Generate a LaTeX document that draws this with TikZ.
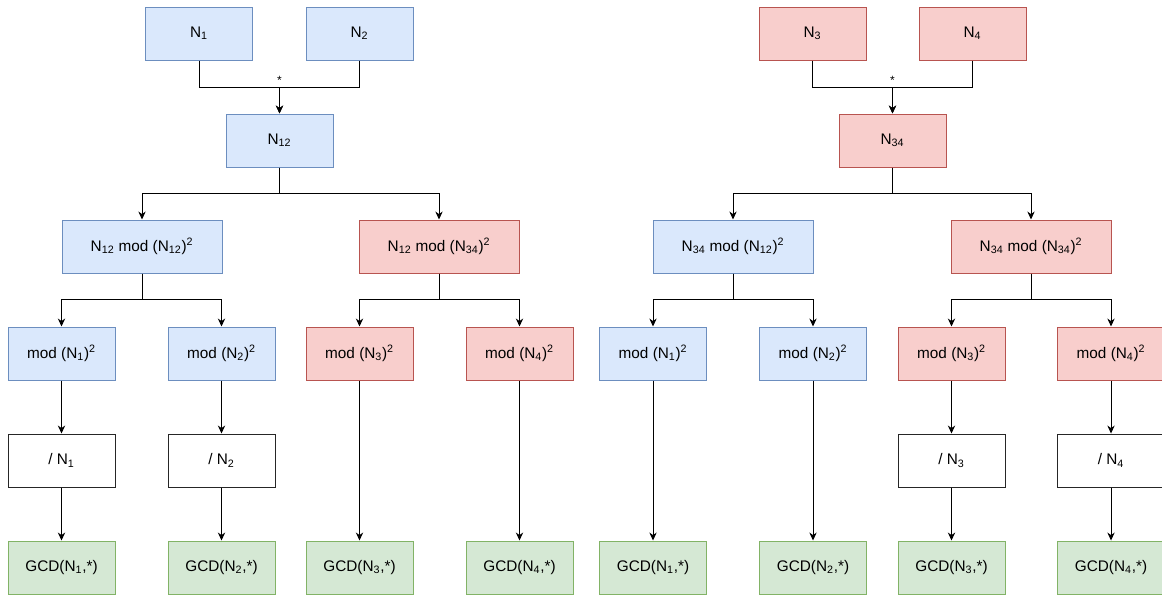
\documentclass[tikz,border=0pt]{standalone}
\usepackage{fontspec}
\setmainfont{Liberation Sans}
\usetikzlibrary{arrows.meta}

\begin{document}
\begin{tikzpicture}[x=0.75pt,y=-0.75pt]
\tikzset{
  box/.style={draw,line width=0.75pt,minimum width=80.25pt,minimum height=39.75pt,inner sep=1pt,font=\fontsize{11.5}{13}\selectfont},
  widebox/.style={box,minimum width=120pt},
  bluebox/.style={fill=blueF,draw=blueD},
  redbox/.style={fill=redF,draw=redD},
  greenbox/.style={fill=greenF,draw=greenD},
  plainbox/.style={fill=white,draw=black!85},
  directed/.style={-{Stealth[length=6pt,width=5.5pt]},line width=0.75pt},
  plain/.style={line width=0.75pt}
}
\definecolor{blueF}{HTML}{DAE8FC}\definecolor{blueD}{HTML}{6C8EBF}
\definecolor{redF}{HTML}{F8CECC}\definecolor{redD}{HTML}{B85450}
\definecolor{greenF}{HTML}{D5E8D4}\definecolor{greenD}{HTML}{82B366}
\useasboundingbox (0,0) rectangle (1162,596);
% top level
\node[box,bluebox] (n_N1) at (199,33.5) {N\textsubscript{1}};
\node[box,bluebox] (n_N2) at (359.5,33.5) {N\textsubscript{2}};
\node[box,bluebox] (n_N12) at (279.5,140.5) {N\textsubscript{12}};
\node[box,redbox] (n_N3) at (812.5,33.5) {N\textsubscript{3}};
\node[box,redbox] (n_N4) at (972.5,33.5) {N\textsubscript{4}};
\node[box,redbox] (n_N34) at (892.5,140.5) {N\textsubscript{34}};
\node[font=\fontsize{9}{10}\selectfont] (s_12) at (279.5,80) {*};
\node[font=\fontsize{9}{10}\selectfont] (s_34) at (892.5,80) {*};
% second level
\node[widebox,bluebox] (n_a12) at (142,246.5) {N\textsubscript{12} mod (N\textsubscript{12})\textsuperscript{2}};
\node[widebox,redbox] (n_b12) at (439,246.5) {N\textsubscript{12} mod (N\textsubscript{34})\textsuperscript{2}};
\node[widebox,bluebox] (n_a34) at (733,246.5) {N\textsubscript{34} mod (N\textsubscript{12})\textsuperscript{2}};
\node[widebox,redbox] (n_b34) at (1031,246.5) {N\textsubscript{34} mod (N\textsubscript{34})\textsuperscript{2}};
% mod boxes
\node[box,bluebox] (n_m1) at (61.5,353.5) {mod (N\textsubscript{1})\textsuperscript{2}};
\node[box,bluebox] (n_m2) at (221.5,353.5) {mod (N\textsubscript{2})\textsuperscript{2}};
\node[box,redbox] (n_m3) at (359.5,353.5) {mod (N\textsubscript{3})\textsuperscript{2}};
\node[box,redbox] (n_m4) at (519.5,353.5) {mod (N\textsubscript{4})\textsuperscript{2}};
\node[box,bluebox] (n_r1) at (653,353.5) {mod (N\textsubscript{1})\textsuperscript{2}};
\node[box,bluebox] (n_r2) at (813,353.5) {mod (N\textsubscript{2})\textsuperscript{2}};
\node[box,redbox] (n_r3) at (951.5,353.5) {mod (N\textsubscript{3})\textsuperscript{2}};
\node[box,redbox] (n_r4) at (1111,353.5) {mod (N\textsubscript{4})\textsuperscript{2}};
% division boxes
\node[box,plainbox] (n_d1) at (61.5,460.5) {/ N\textsubscript{1}};
\node[box,plainbox] (n_d2) at (221.5,460.5) {/ N\textsubscript{2}};
\node[box,plainbox] (n_d3) at (951.5,460.5) {/ N\textsubscript{3}};
\node[box,plainbox] (n_d4) at (1111,460.5) {/ N\textsubscript{4}};
% gcd boxes
\node[box,greenbox] (n_g1) at (61.5,567.5) {GCD(N\textsubscript{1},*)};
\node[box,greenbox] (n_g2) at (221.5,567.5) {GCD(N\textsubscript{2},*)};
\node[box,greenbox] (n_g3) at (359.5,567.5) {GCD(N\textsubscript{3},*)};
\node[box,greenbox] (n_g4) at (519.5,567.5) {GCD(N\textsubscript{4},*)};
\node[box,greenbox] (n_h1) at (653,567.5) {GCD(N\textsubscript{1},*)};
\node[box,greenbox] (n_h2) at (813,567.5) {GCD(N\textsubscript{2},*)};
\node[box,greenbox] (n_h3) at (951.5,567.5) {GCD(N\textsubscript{3},*)};
\node[box,greenbox] (n_h4) at (1111,567.5) {GCD(N\textsubscript{4},*)};
% connectors
\draw[directed] (n_N1.south) -- ++(0,27) -| (n_N12.north);
\draw[directed] (n_N2.south) -- ++(0,27) -| (n_N12.north);
\draw[directed] (n_N3.south) -- ++(0,27) -| (n_N34.north);
\draw[directed] (n_N4.south) -- ++(0,27) -| (n_N34.north);
\draw[directed] (n_N12.south) -- ++(0,26) -| (n_a12.north);
\draw[directed] (n_N12.south) -- ++(0,26) -| (n_b12.north);
\draw[directed] (n_N34.south) -- ++(0,26) -| (n_a34.north);
\draw[directed] (n_N34.south) -- ++(0,26) -| (n_b34.north);
\draw[directed] (n_a12.south) -- ++(0,26) -| (n_m1.north);
\draw[directed] (n_a12.south) -- ++(0,26) -| (n_m2.north);
\draw[directed] (n_b12.south) -- ++(0,26) -| (n_m3.north);
\draw[directed] (n_b12.south) -- ++(0,26) -| (n_m4.north);
\draw[directed] (n_a34.south) -- ++(0,26) -| (n_r1.north);
\draw[directed] (n_a34.south) -- ++(0,26) -| (n_r2.north);
\draw[directed] (n_b34.south) -- ++(0,26) -| (n_r3.north);
\draw[directed] (n_b34.south) -- ++(0,26) -| (n_r4.north);
\draw[directed] (n_m1) -- (n_d1);
\draw[directed] (n_m2) -- (n_d2);
\draw[directed] (n_d1) -- (n_g1);
\draw[directed] (n_d2) -- (n_g2);
\draw[directed] (n_m3) -- (n_g3);
\draw[directed] (n_m4) -- (n_g4);
\draw[directed] (n_r1) -- (n_h1);
\draw[directed] (n_r2) -- (n_h2);
\draw[directed] (n_r3) -- (n_d3);
\draw[directed] (n_r4) -- (n_d4);
\draw[directed] (n_d3) -- (n_h3);
\draw[directed] (n_d4) -- (n_h4);
\end{tikzpicture}
\end{document}
